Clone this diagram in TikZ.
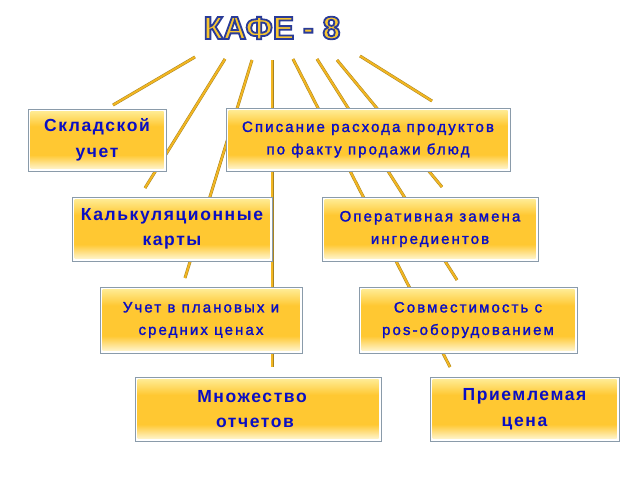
\documentclass[tikz,border=0pt]{standalone}
\usepackage{fontspec}
\setmainfont{Liberation Sans}
\newfontfamily\smallboxfont[LetterSpace=14,FakeBold=1.6]{Liberation Sans}
\newfontfamily\bigboxfont[LetterSpace=9]{Liberation Sans Bold}
\newfontfamily\titlefont{Liberation Sans Bold}
\definecolor{gtop}{HTML}{FFF0A0}
\definecolor{gmid}{HTML}{FFC832}
\definecolor{gbot}{HTML}{FFFBE4}
\definecolor{bord}{HTML}{8A9BAA}
\definecolor{txt}{HTML}{0A0EC4}
\definecolor{linec}{HTML}{F2B622}
\definecolor{lineedge}{HTML}{A88420}
\definecolor{titlefill}{HTML}{F8C630}
\pgfdeclareverticalshading{boxshade}{100bp}{color(0bp)=(gbot); color(25bp)=(gbot); color(38bp)=(gmid); color(61bp)=(gmid); color(75bp)=(gtop); color(100bp)=(gtop)}
\tikzset{
  gbox/.style={draw=bord, line width=0.9pt, fill=white, inner sep=0pt, align=center, text=txt,
    path picture={\fill[shading=boxshade] ([shift={(2.5pt,-2.5pt)}]path picture bounding box.north west) rectangle ([shift={(-2.5pt,2.5pt)}]path picture bounding box.south east);}},
  bigtxt/.style={font=\bigboxfont\fontsize{17.5}{25.5}\selectfont},
  smalltxt/.style={font=\smallboxfont\fontsize{15}{22.5}\selectfont},
  conn/.style={draw=lineedge, line width=3pt, postaction={draw=linec, line width=2pt}},
}
\newcommand{\outlinedtitle}[1]{\special{pdf:literal direct 2 Tr 1.8 w 0.16 0.23 0.60 RG}#1\special{pdf:literal direct 0 Tr}}
\begin{document}
\begin{tikzpicture}[x=1pt,y=-1pt]
\useasboundingbox (0,0) rectangle (640,480);
% connector end points
\coordinate (s1) at (195,57); \coordinate (e1) at (113,105);
\coordinate (s2) at (225,59); \coordinate (e2) at (145,188);
\coordinate (s3) at (252,60); \coordinate (e3) at (185,278);
\coordinate (s4) at (272,60); \coordinate (e4) at (272,367);
\coordinate (s5) at (293,59); \coordinate (e5) at (450,367);
\coordinate (s6) at (317,59); \coordinate (e6) at (457,280);
\coordinate (s7) at (337,60); \coordinate (e7) at (442,187);
\coordinate (s8) at (360,56); \coordinate (e8) at (432,101);
\foreach \i in {1,...,8} { \draw[conn] (s\i) -- (e\i); }
% title
\node[text=titlefill, font=\titlefont\fontsize{32}{32}\selectfont] (title) at (272,28) {\outlinedtitle{КАФЕ - 8}};
% boxes
\node[gbox, bigtxt, minimum width=138pt, minimum height=62pt] (sklad) at (97,140) {Складской\\учет};
\node[gbox, smalltxt, minimum width=284pt, minimum height=63pt] (spis) at (368,139.5) {Списание расхода продуктов\\по факту продажи блюд};
\node[gbox, bigtxt, minimum width=200pt, minimum height=64pt] (kalk) at (172,229) {Калькуляционные\\карты};
\node[gbox, smalltxt, minimum width=216pt, minimum height=64pt] (oper) at (430,229) {Оперативная замена\\ингредиентов};
\node[gbox, smalltxt, minimum width=202pt, minimum height=66pt] (uchet) at (201,320) {Учет в плановых и\\средних ценах};
\node[gbox, smalltxt, minimum width=218pt, minimum height=66pt] (sovm) at (468,320) {Совместимость с\\pos-оборудованием};
\node[gbox, bigtxt, minimum width=246pt, minimum height=64pt] (mnog) at (258,409) {Множество\hspace*{12pt}\\отчетов\hspace*{6pt}};
\node[gbox, bigtxt, minimum width=189pt, minimum height=64pt] (priem) at (524.5,409) {Приемлемая\\цена};
\end{tikzpicture}
\end{document}
